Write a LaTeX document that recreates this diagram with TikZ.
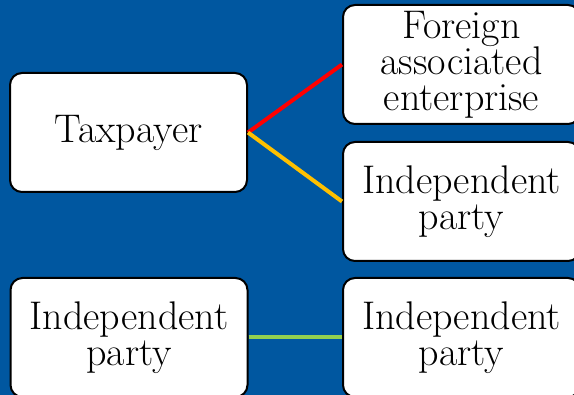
\documentclass[tikz,border=0pt]{standalone}
\definecolor{bgblue}{HTML}{0057A0}
\definecolor{linkred}{HTML}{FF0000}
\definecolor{linkgold}{HTML}{FFC000}
\definecolor{linkgreen}{HTML}{92D050}
\tikzset{
  party/.style={rectangle, draw=black, fill=white, line width=2pt, rounded corners=12pt,
    minimum width=237pt, minimum height=119pt, align=center,
    font=\fontsize{40}{36}\selectfont},
  link/.style={line width=4pt}
}
\begin{document}
\begin{tikzpicture}[x=1pt, y=1pt]
  % Background
  \useasboundingbox (0, 0) rectangle (574, 395);
  \clip (0, 0) rectangle (574, 395);
  \fill[bgblue] (0, 0) rectangle (574, 395);
  % Nodes
  \node (tax) [party] at (128.5, 262.5) {Taxpayer};
  \node (fae) [party] at (461.5, 330.5) {Foreign\\associated\\enterprise};
  \node (ip1) [party] at (461.5, 193.5) {Independent\\party};
  \node (ip2) [party] at (129, 57.5) {Independent\\party};
  \node (ip3) [party] at (461.5, 57.5) {Independent\\party};
  % Links
  \draw[link, linkred] (tax.east) -- (fae.west);
  \draw[link, linkgold] (tax.east) -- (ip1.west);
  \draw[link, linkgreen] (ip2.east) -- (ip3.west);
\end{tikzpicture}
\end{document}
